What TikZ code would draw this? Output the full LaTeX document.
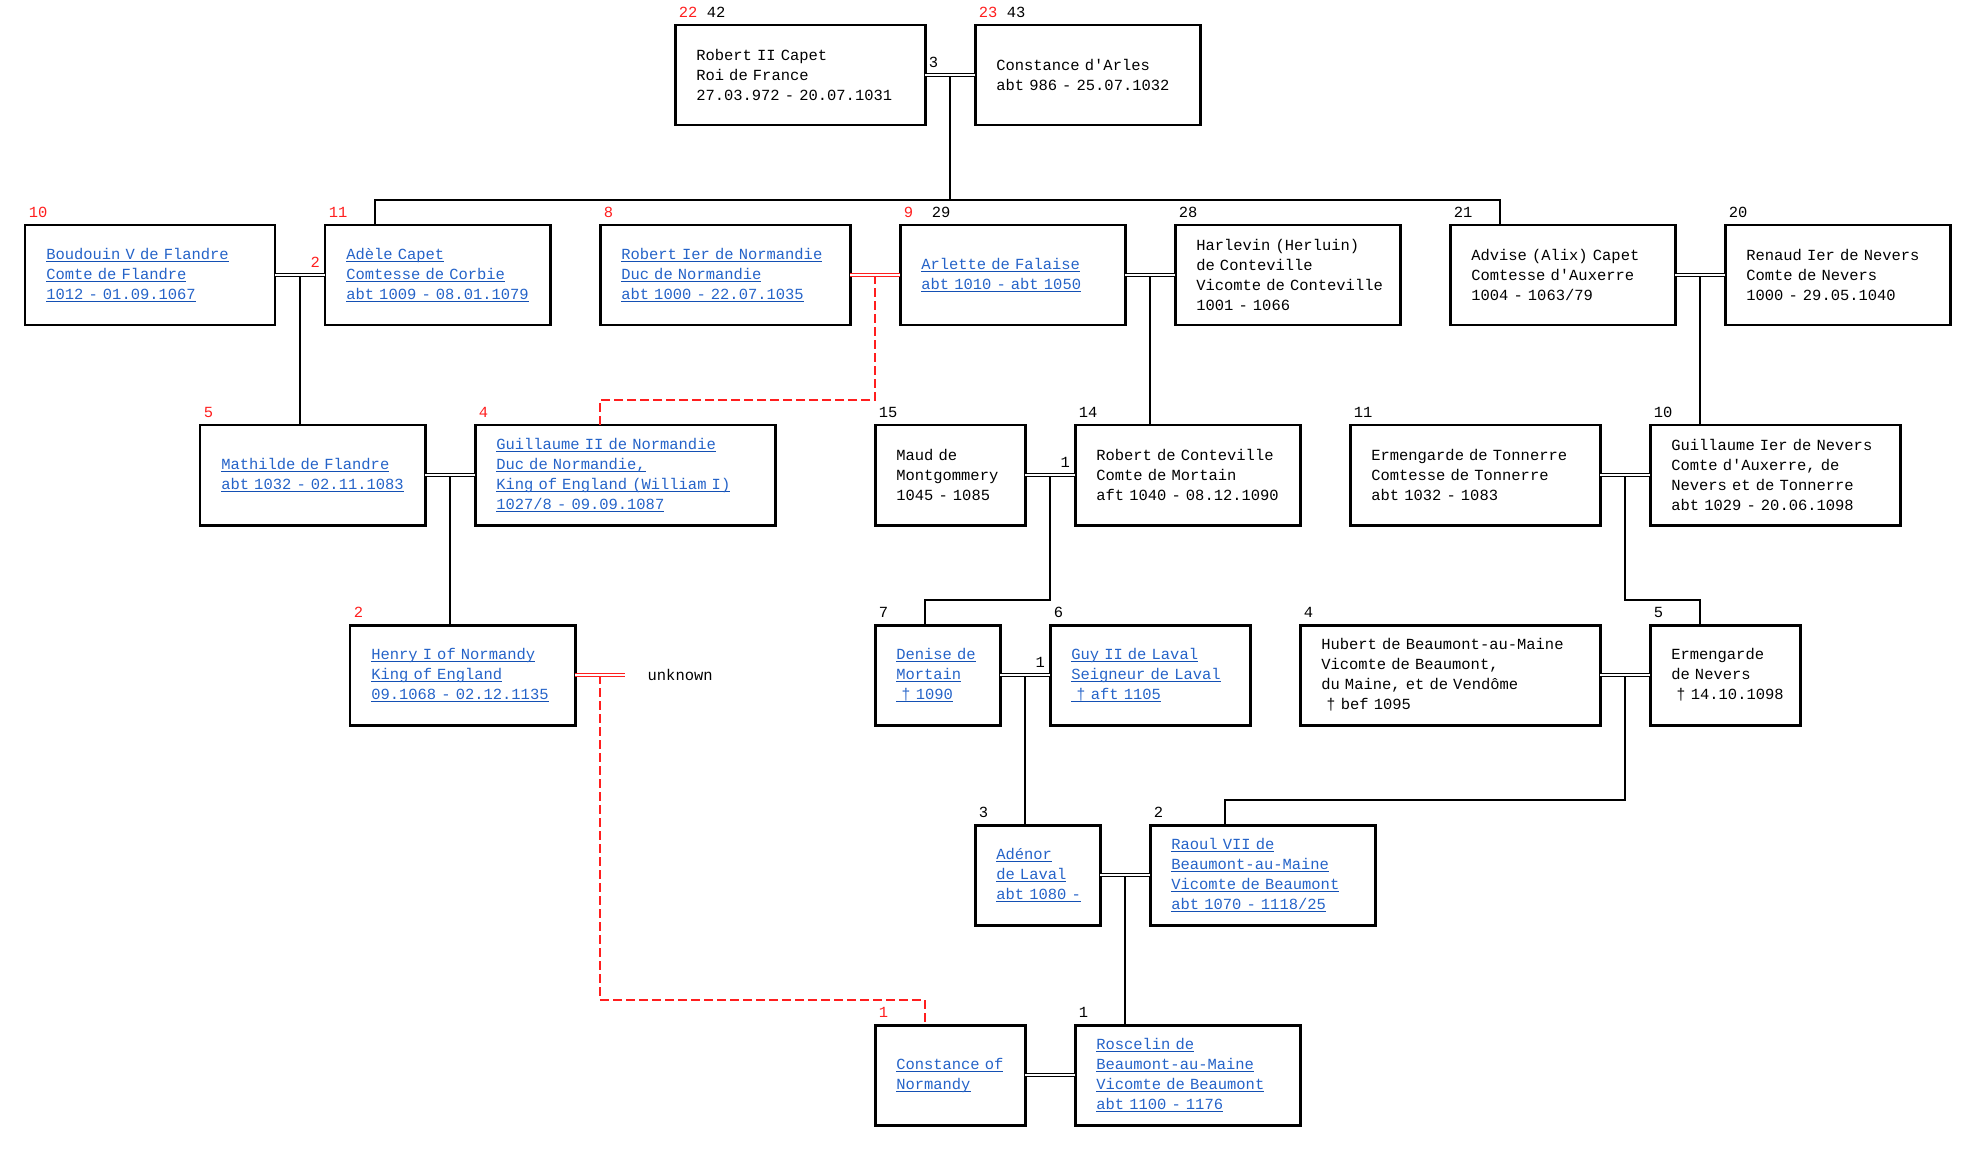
\documentclass[tikz,border=0pt]{standalone}
\usepackage{fontspec}
\usepackage{xcolor}
\usepackage{tikz}
\usetikzlibrary{positioning,calc}
\newfontfamily\treefont{Liberation Mono}
\definecolor{linkblue}{HTML}{2563C8}
\definecolor{linkline}{HTML}{1450B4}
\definecolor{gedred}{HTML}{FF1E1E}
\newsavebox\lnkbox
\newcommand{\lnk}[1]{\leavevmode\sbox\lnkbox{#1}\rlap{\textcolor{linkline}{\rule[-2.9pt]{\wd\lnkbox}{1.1pt}}}\usebox\lnkbox}
\newcommand{\rd}[1]{\textcolor{gedred}{#1}}
\tikzset{
  person/.style={draw=black, line width=3.4pt, anchor=north west, outer sep=0pt, inner xsep=0.85cm, inner ysep=2pt, minimum height=4cm, align=left, text width=#1, font=\treefont\fontsize{17.6}{22.76}\selectfont},
  linked/.style={person=#1, text=linkblue},
  gen/.style={inner sep=0pt, font=\treefont\fontsize{17.6}{22.76}\selectfont},
  couple/.style={draw=black, double=white, double distance=1.7pt, line width=1.1pt},
  redcouple/.style={couple, draw=gedred},
  descent/.style={draw=black, line width=1.2pt},
  reddescent/.style={draw=gedred, line width=2.2pt, dash pattern=on 0.36cm off 0.16cm}
}

\begin{document}
\begin{tikzpicture}[x=1cm, y=-1cm, node distance=2cm]
  \useasboundingbox (0,0) rectangle (79.04,46.04);
  % persons, row by row
  \node[person=8.3cm] (rob2) at (27,1) {Robert II Capet\\Roi de France\\\mbox{27.03.972 - 20.07.1031}};
  \node[person=7.3cm, right=of rob2] (consA) {Constance d'Arles\\abt 986 - 25.07.1032};

  \node[linked=8.3cm] (boud) at (1,9) {\lnk{Boudouin V de Flandre}\\\lnk{Comte de Flandre}\\\lnk{1012 - 01.09.1067}};
  \node[linked=7.3cm, right=of boud] (adele) {\lnk{Adèle Capet}\\\lnk{Comtesse de Corbie}\\\lnk{abt 1009 - 08.01.1079}};
  \node[linked=8.3cm, right=of adele] (rob1) {\lnk{Robert Ier de Normandie}\\\lnk{Duc de Normandie}\\\lnk{abt 1000 - 22.07.1035}};
  \node[linked=7.3cm, right=of rob1] (arl) {\lnk{Arlette de Falaise}\\\lnk{abt 1010 - abt 1050}};
  \node[person=7.3cm, right=of arl] (harl) {Harlevin (Herluin)\\de Conteville\\\mbox{Vicomte de Conteville}\\1001 - 1066};
  \node[person=7.3cm, right=of harl] (advise) {Advise (Alix) Capet\\Comtesse d'Auxerre\\1004 - 1063/79};
  \node[person=7.3cm, right=of advise] (renaud) {\mbox{Renaud Ier de Nevers}\\Comte de Nevers\\1000 - 29.05.1040};

  \node[linked=7.3cm] (math) at (8,17) {\lnk{Mathilde de Flandre}\\\lnk{abt 1032 - 02.11.1083}};
  \node[linked=10.3cm, right=of math] (guil) {\lnk{Guillaume II de Normandie}\\\lnk{Duc de Normandie,}\\\lnk{King of England (William I)}\\\lnk{1027/8 - 09.09.1087}};
  \node[person=4.3cm] (maud) at (35,17) {Maud de\\Montgommery\\1045 - 1085};
  \node[person=7.3cm, right=of maud] (robc) {\mbox{Robert de Conteville}\\Comte de Mortain\\\mbox{aft 1040 - 08.12.1090}};
  \node[person=8.3cm, right=of robc] (ermt) {\mbox{Ermengarde de Tonnerre}\\Comtesse de Tonnerre\\abt 1032 - 1083};
  \node[person=8.3cm, right=of ermt] (guin) {\mbox{Guillaume Ier de Nevers}\\Comte d'Auxerre, de\\Nevers et de Tonnerre\\\mbox{abt 1029 - 20.06.1098}};

  \node[linked=7.3cm] (henry) at (14,25) {\lnk{Henry I of Normandy}\\\lnk{King of England}\\\lnk{09.1068 - 02.12.1135}};
  \node[gen, inner xsep=0.9cm, right=of henry] (unk) {unknown};
  \node[linked=3.3cm] (denise) at (35,25) {\lnk{Denise de}\\\lnk{Mortain}\\\lnk{~† 1090}};
  \node[linked=6.3cm, right=of denise] (guy) {\lnk{Guy II de Laval}\\\lnk{Seigneur de Laval}\\\lnk{~† aft 1105}};
  \node[person=10.3cm, right=of guy] (hubert) {\mbox{Hubert de Beaumont-au-Maine}\\Vicomte de Beaumont,\\du Maine, et de Vendôme\\\mbox{~† bef 1095}};
  \node[person=4.3cm, right=of hubert] (ermn) {Ermengarde\\de Nevers\\\mbox{~† 14.10.1098}};

  \node[linked=3.3cm] (adenor) at (39,33) {\lnk{Adénor}\\\lnk{de Laval}\\\lnk{abt 1080 -}};
  \node[linked=7.3cm, right=of adenor] (raoul) {\lnk{Raoul VII de}\\\lnk{Beaumont-au-Maine}\\\lnk{Vicomte de Beaumont}\\\lnk{abt 1070 - 1118/25}};

  \node[linked=4.3cm] (consN) at (35,41) {\lnk{Constance of}\\\lnk{Normandy}};
  \node[linked=7.3cm, right=of consN] (rosc) {\lnk{Roscelin de}\\\lnk{Beaumont-au-Maine}\\\lnk{Vicomte de Beaumont}\\\lnk{abt 1100 - 1176}};

  % generation numbers
  \node[gen, above right=0.3cm and 0.15cm of rob2.north west] (rob2n) {\rd{22}~42};
  \node[gen, above right=0.3cm and 0.15cm of consA.north west] (consAn) {\rd{23}~43};
  \node[gen, above right=0.3cm and 0.15cm of boud.north west] (boudn) {\rd{10}};
  \node[gen, above right=0.3cm and 0.15cm of adele.north west] (adelen) {\rd{11}};
  \node[gen, above right=0.3cm and 0.15cm of rob1.north west] (rob1n) {\rd{8}};
  \node[gen, above right=0.3cm and 0.15cm of arl.north west] (arln) {\rd{9}~~29};
  \node[gen, above right=0.3cm and 0.15cm of harl.north west] (harln) {28};
  \node[gen, above right=0.3cm and 0.15cm of advise.north west] (advisen) {21};
  \node[gen, above right=0.3cm and 0.15cm of renaud.north west] (renaudn) {20};
  \node[gen, above right=0.3cm and 0.15cm of math.north west] (mathn) {\rd{5}};
  \node[gen, above right=0.3cm and 0.15cm of guil.north west] (guiln) {\rd{4}};
  \node[gen, above right=0.3cm and 0.15cm of maud.north west] (maudn) {15};
  \node[gen, above right=0.3cm and 0.15cm of robc.north west] (robcn) {14};
  \node[gen, above right=0.3cm and 0.15cm of ermt.north west] (ermtn) {11};
  \node[gen, above right=0.3cm and 0.15cm of guin.north west] (guinn) {10};
  \node[gen, above right=0.3cm and 0.15cm of henry.north west] (henryn) {\rd{2}};
  \node[gen, above right=0.3cm and 0.15cm of denise.north west] (denisen) {7};
  \node[gen, above right=0.3cm and 0.15cm of guy.north west] (guyn) {6};
  \node[gen, above right=0.3cm and 0.15cm of hubert.north west] (hubertn) {4};
  \node[gen, above right=0.3cm and 0.15cm of ermn.north west] (ermnn) {5};
  \node[gen, above right=0.3cm and 0.15cm of adenor.north west] (adenorn) {3};
  \node[gen, above right=0.3cm and 0.15cm of raoul.north west] (raouln) {2};
  \node[gen, above right=0.3cm and 0.15cm of consN.north west] (consNn) {\rd{1}};
  \node[gen, above right=0.3cm and 0.15cm of rosc.north west] (roscn) {1};

  % marriage numbers
  \node[gen, above right=0.3cm and 0.15cm of rob2.east] (rob2m) {3};
  \node[gen, text=gedred, above left=0.3cm and 0.2cm of adele.west] (adelem) {2};
  \node[gen, above left=0.3cm and 0.2cm of robc.west] (robcm) {1};
  \node[gen, above left=0.3cm and 0.2cm of guy.west] (guym) {1};

  % couples
  \coordinate (m1) at ($(rob2.east)!.5!(consA.west)$);
  \coordinate (m2) at ($(boud.east)!.5!(adele.west)$);
  \coordinate (m3) at ($(rob1.east)!.5!(arl.west)$);
  \coordinate (m4) at ($(arl.east)!.5!(harl.west)$);
  \coordinate (m5) at ($(advise.east)!.5!(renaud.west)$);
  \coordinate (m6) at ($(math.east)!.5!(guil.west)$);
  \coordinate (m7) at ($(maud.east)!.5!(robc.west)$);
  \coordinate (m8) at ($(ermt.east)!.5!(guin.west)$);
  \coordinate (m9) at ($(henry.east)!.5!(unk.west)$);
  \coordinate (m10) at ($(denise.east)!.5!(guy.west)$);
  \coordinate (m11) at ($(hubert.east)!.5!(ermn.west)$);
  \coordinate (m12) at ($(adenor.east)!.5!(raoul.west)$);

  % descent lines
  \draw[descent] (m1) -- ++(0,5) -| ([xshift=2cm]adele.north west);
  \draw[descent] (m1) -- ++(0,5) -| ([xshift=2cm]advise.north west);
  \draw[descent] (m2) -- (m2 |- math.north);
  \draw[reddescent] (m3) -- ++(0,5) -| ([xshift=5cm]guil.north west);
  \draw[descent] (m4) -- (m4 |- robc.north);
  \draw[descent] (m5) -- (m5 |- guin.north);
  \draw[descent] (m6) -- (m6 |- henry.north);
  \draw[descent] (m7) -- ++(0,5) -| ([xshift=2cm]denise.north west);
  \draw[descent] (m8) -- ++(0,5) -| ([xshift=2cm]ermn.north west);
  \draw[reddescent] (m9) -- ++(0,13) -| ([xshift=2cm]consN.north west);
  \draw[descent] (m10) -- (m10 |- adenor.north);
  \draw[descent] (m11) -- ++(0,5) -| ([xshift=3cm]raoul.north west);
  \draw[descent] (m12) -- (m12 |- rosc.north);

  \draw[couple] (rob2) -- (consA);
  \draw[couple] (boud) -- (adele);
  \draw[redcouple] (rob1) -- (arl);
  \draw[couple] (arl) -- (harl);
  \draw[couple] (advise) -- (renaud);
  \draw[couple] (math) -- (guil);
  \draw[couple] (maud) -- (robc);
  \draw[couple] (ermt) -- (guin);
  \draw[redcouple] (henry) -- (unk);
  \draw[couple] (denise) -- (guy);
  \draw[couple] (hubert) -- (ermn);
  \draw[couple] (adenor) -- (raoul);
  \draw[couple] (consN) -- (rosc);
\end{tikzpicture}
\end{document}
